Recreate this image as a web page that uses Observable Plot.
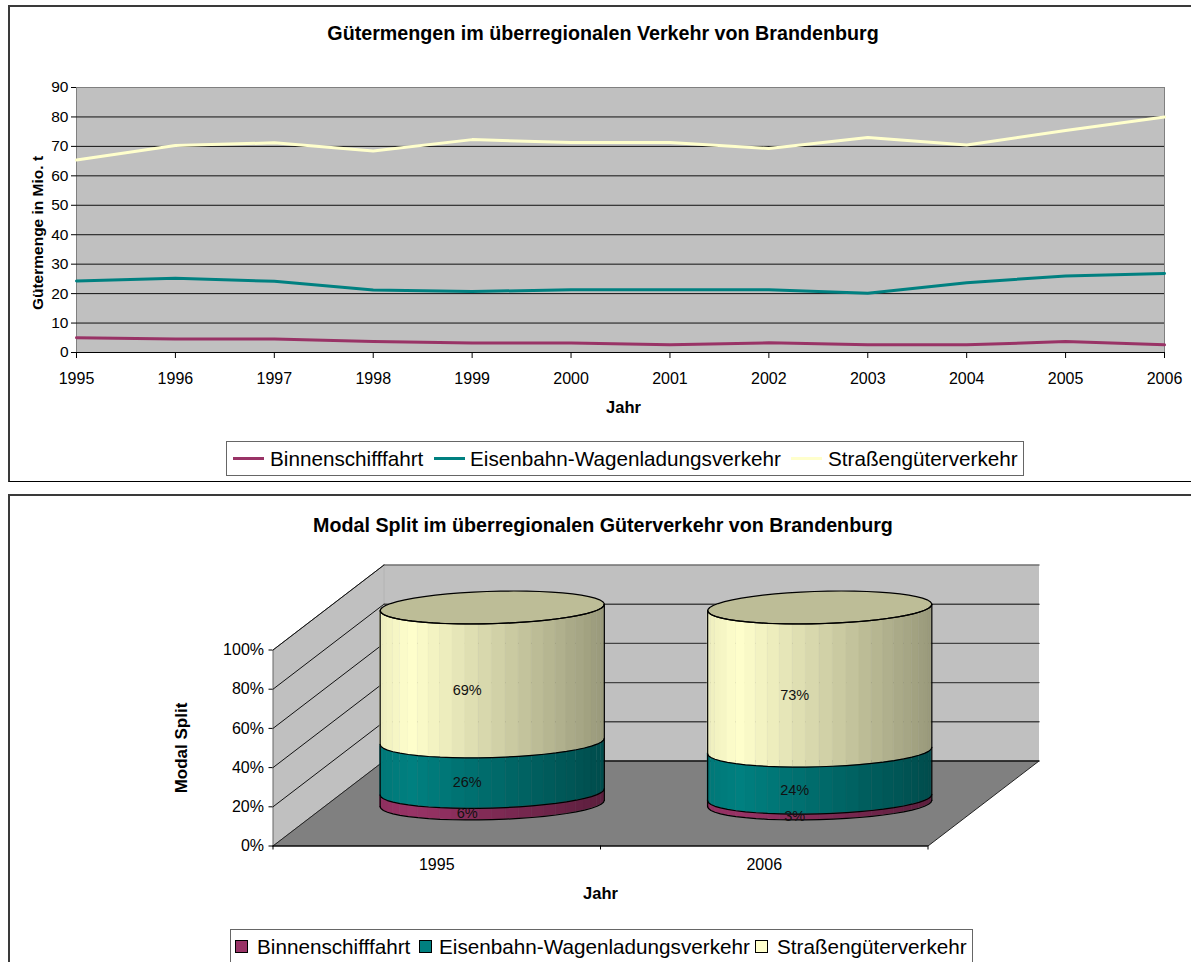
<!DOCTYPE html>
<html lang="de">
<head>
<meta charset="utf-8">
<title>Güterverkehr Brandenburg</title>
<script src="https://cdn.jsdelivr.net/npm/d3@7"></script>
<script src="https://cdn.jsdelivr.net/npm/@observablehq/plot@0.6"></script>
<style>
  html, body { margin: 0; padding: 0; background: #fff; }
  #page { position: relative; width: 1191px; height: 962px; overflow: hidden; font-family: "Liberation Sans", Arial, sans-serif; color: #000; }
  .panel { position: absolute; box-sizing: border-box; background: #fff;
           border-top: 2px solid #3a3a3a; border-left: 2px solid #3a3a3a; border-bottom: 1.5px solid #000; }
  .layer { position: absolute; left: 0; }
  .title { position: absolute; left: 0; font-weight: bold; text-align: center; font-size: 19.7px; white-space: nowrap; }
  .legend { position: absolute; box-sizing: border-box; background: #fff; border: 1.5px solid #666; }
  .legend span { position: absolute; white-space: nowrap; font-size: 20.7px; line-height: 1; }
  .legend i { position: absolute; display: block; box-sizing: border-box; }
</style>
</head>
<body>
<div id="page"></div>
<script>
// Tonnage per year and transport mode (million t)
const years = [1995, 1996, 1997, 1998, 1999, 2000, 2001, 2002, 2003, 2004, 2005, 2006];
const binnenschiff = [5, 4.6, 4.6, 3.7, 3.2, 3.2, 2.6, 3.3, 2.6, 2.6, 3.7, 2.6];
const eisenbahn = [24.3, 25.2, 24.2, 21.2, 20.7, 21.3, 21.3, 21.3, 20.1, 23.7, 26, 26.8];
const strasse = [65.4, 70.3, 71.2, 68.4, 72.3, 71.3, 71.3, 69.3, 73, 70.5, 75.4, 80];
const tonTicks = [0, 10, 20, 30, 40, 50, 60, 70, 80, 90];

// Modal split, percent per mode
const splitYears = ["1995", "2006"];
const splitBinnenschiff = [6, 3];
const splitEisenbahn = [26, 24];
const splitStrasse = [69, 73];
const percentTicks = [0, 20, 40, 60, 80, 100];

const modeNames = ["Binnenschifffahrt", "Eisenbahn-Wagenladungsverkehr", "Straßengüterverkehr"];
const modeColors = ["#993366", "#008080", "#FFFFCC"];

const page = document.getElementById("page");

function addPanel(top, height) {
  const d = document.createElement("div");
  d.className = "panel";
  Object.assign(d.style, {left: "8px", top: top + "px", width: "1190px", height: height + "px"});
  page.append(d);
}
function addLayer(svg, top) {
  svg.classList.add("layer");
  svg.style.top = top + "px";
  page.append(svg);
}
function addTitle(text, cx, top) {
  const d = document.createElement("div");
  d.className = "title";
  d.textContent = text;
  Object.assign(d.style, {left: cx - 500 + "px", width: "1000px", top: top + "px"});
  page.append(d);
}
function addLegend(box, textTop, items) {
  const d = document.createElement("div");
  d.className = "legend";
  Object.assign(d.style, {left: box[0] + "px", top: box[1] + "px", width: box[2] + "px", height: box[3] + "px"});
  items.forEach((it, k) => {
    const key = document.createElement("i");
    Object.assign(key.style, it.key);
    const t = document.createElement("span");
    t.textContent = modeNames[k];
    Object.assign(t.style, {left: it.textLeft + "px", top: textTop + "px"});
    d.append(key, t);
  });
  page.append(d);
}

/* ---------- line chart ---------- */
const lineRows = modeNames.flatMap((mode, k) =>
  years.map((year, i) => ({mode: k, year, value: [binnenschiff, eisenbahn, strasse][k][i]})));

addPanel(5, 476.5);
addLayer(Plot.plot({
  width: 1191, height: 482,
  marginLeft: 76, marginRight: 27, marginTop: 87, marginBottom: 130,
  style: {fontFamily: "Liberation Sans, Arial, sans-serif", fontSize: "15px", background: "transparent", overflow: "visible"},
  x: {domain: [1995, 2006], label: null},
  y: {domain: [0, 90], label: null},
  marks: [
    Plot.frame({fill: "#C0C0C0", stroke: "#808080"}),
    Plot.ruleY(tonTicks.slice(1, -1), {stroke: "#111", strokeWidth: 1}),
    Plot.ruleY([0], {stroke: "#000", strokeWidth: 1.2}),
    Plot.axisY({ticks: tonTicks, tickSize: 5, tickPadding: 3, fontSize: 15.5, tickFormat: "d", label: null}),
    Plot.axisX({ticks: years, tickSize: 6, tickPadding: 14, fontSize: 16, tickFormat: "d", label: null}),
    Plot.line(lineRows, {x: "year", y: "value", z: "mode", stroke: d => modeColors[d.mode], strokeWidth: 3}),
    Plot.text(["Gütermenge in Mio. t"], {frameAnchor: "left", textAnchor: "middle", rotate: -90, dx: -38, dy: 13, fontWeight: "bold", fontSize: 15.5}),
    Plot.text(["Jahr"], {frameAnchor: "bottom", dx: 3, dy: 60, fontWeight: "bold", fontSize: 16.5})
  ]
}), 0);
addTitle("Gütermengen im überregionalen Verkehr von Brandenburg", 603, 22);
addLegend([226, 441, 798, 35], 7, [
  {key: {left: "6px", top: "15px", width: "31px", height: "3px", background: modeColors[0]}, textLeft: 43},
  {key: {left: "207px", top: "15px", width: "31px", height: "3px", background: modeColors[1]}, textLeft: 243},
  {key: {left: "564px", top: "15px", width: "31px", height: "3px", background: modeColors[2]}, textLeft: 601}
]);

/* ---------- 3D stacked cylinders ---------- */
// Oblique projection: a depth of 1 moves a point right and up by these amounts,
// expressed in category and percent units.
const depthX = 111 / 327.5;
const depthY = 85 / 1.96;
const px = (u, d) => u + d * depthX;
const py = (v, d) => v + d * depthY;
const corner = ([u, v, d]) => ({x: px(u, d), y: py(v, d)});

const leftWall = [[0, 0, 0], [0, 0, 1], [0, 100, 1], [0, 100, 0], [0, 0, 0]];
const backWall = [[0, 0, 1], [2, 0, 1], [2, 100, 1], [0, 100, 1], [0, 0, 1]];
const floor = [[0, 0, 0], [2, 0, 0], [2, 0, 1], [0, 0, 1], [0, 0, 0]];
const wallCorner = [[0, 0, 1], [0, 100, 1]];

// Cylinder footprint in category and depth units
const radiusU = 110 / 327.5;
const radiusD = 0.194;
const facetCount = 26;
const silhouette = Math.atan2(radiusD * depthX, radiusU);
const ring = (c, t) => ({u: c + 0.5 + radiusU * Math.cos(t), d: 0.5 + radiusD * Math.sin(t)});
const frontAngle = s => silhouette + Math.PI + (Math.PI * s);
const shade = d3.scaleLinear([0, 0.14, 1], [0.93, 1, 0.6]);
const tint = (hex, f) => { const c = d3.rgb(hex); return d3.rgb(c.r * f, c.g * f, c.b * f).formatRgb(); };

const facets = [], arcs = [], edges = [], caps = [], stackLabels = [];
splitYears.forEach((year, c) => {
  const parts = [splitBinnenschiff[c], splitEisenbahn[c], splitStrasse[c]];
  const total = d3.sum(parts);
  const tops = Array.from(d3.cumsum(parts), v => v / total * 100);
  parts.forEach((p, k) => {
    const lo = k ? tops[k - 1] : 0, hi = tops[k];
    for (let i = 0; i < facetCount; i++) {
      const a = ring(c, frontAngle(i / facetCount));
      const b = ring(c, frontAngle((i + 1) / facetCount));
      const left = ring(c, frontAngle(0)), right = ring(c, frontAngle(1));
      const mid = ((a.u + a.d * depthX + b.u + b.d * depthX) / 2 - (left.u + left.d * depthX)) /
                  ((right.u + right.d * depthX) - (left.u + left.d * depthX));
      const fill = tint(modeColors[k], shade(mid));
      const id = `${c}-${k}-${i}`;
      facets.push({id, fill, x: px(a.u, a.d), y1: py(lo, a.d), y2: py(hi, a.d)});
      facets.push({id, fill, x: px(b.u, b.d), y1: py(lo, b.d), y2: py(hi, b.d)});
    }
    stackLabels.push({text: `${p}%`, x: px(c + 0.5, 0.5), y: py((lo + hi) / 2, 0.5)});
  });
  [0, ...tops].forEach((v, k) => {
    for (let i = 0; i <= facetCount; i++) {
      const a = ring(c, frontAngle(i / facetCount));
      arcs.push({id: `${c}-${k}`, x: px(a.u, a.d), y: py(v, a.d)});
    }
  });
  [0, 1].forEach(s => {
    const a = ring(c, frontAngle(s));
    edges.push({id: `${c}-${s}`, x: px(a.u, a.d), y: py(0, a.d)});
    edges.push({id: `${c}-${s}`, x: px(a.u, a.d), y: py(100, a.d)});
  });
  for (let i = 0; i <= 2 * facetCount; i++) {
    const a = ring(c, (i / facetCount) * Math.PI);
    caps.push({id: c, x: px(a.u, a.d), y: py(100, a.d)});
  }
});

const sideLines = percentTicks.slice(1).flatMap(v => [
  {id: v, ...corner([0, v, 0])}, {id: v, ...corner([0, v, 1])}
]);
const backLines = percentTicks.slice(1, -1).flatMap(v => [
  {id: v, ...corner([0, v, 1])}, {id: v, ...corner([2, v, 1])}
]);

addPanel(494, 480);
addLayer(Plot.plot({
  width: 1191, height: 472,
  marginLeft: 272.5, marginRight: 152.5, marginTop: 74.5, marginBottom: 116.5,
  style: {fontFamily: "Liberation Sans, Arial, sans-serif", fontSize: "15px", background: "transparent", overflow: "visible"},
  x: {domain: [0, px(2, 1)], label: null},
  y: {domain: [0, py(100, 1)], label: null},
  marks: [
    Plot.line(backWall.map(corner), {x: "x", y: "y", fill: "#C0C0C0"}),
    Plot.line(leftWall.map(corner), {x: "x", y: "y", fill: "#C0C0C0", stroke: "#666", strokeWidth: 1}),
    Plot.line(wallCorner.map(corner), {x: "x", y: "y", stroke: "#E0E0E0", strokeWidth: 1}),
    Plot.line(backWall.slice(2, 4).map(corner), {x: "x", y: "y", stroke: "#707070", strokeWidth: 1.5}),
    Plot.line(floor.map(corner), {x: "x", y: "y", fill: "#808080", stroke: "#222", strokeWidth: 1}),
    Plot.line(backWall.slice(0, 2).map(corner), {x: "x", y: "y", stroke: "#222", strokeWidth: 1.6}),
    Plot.line(sideLines, {x: "x", y: "y", z: "id", stroke: "#111", strokeWidth: 1}),
    Plot.line(backLines, {x: "x", y: "y", z: "id", stroke: "#444", strokeWidth: 1.4}),
    Plot.ruleY([0], {x1: 0, x2: 2, stroke: "#000", strokeWidth: 1.2}),
    Plot.axisY({ticks: percentTicks, tickSize: 4, tickPadding: 5, fontSize: 16, tickFormat: d => `${d}%`, label: null}),
    Plot.axisX({ticks: [0, 1, 2], tickSize: 4, tickFormat: () => "", label: null}),
    Plot.axisX({ticks: [0.5, 1.5], tickSize: 0, tickPadding: 13, fontSize: 16, tickFormat: d => splitYears[d - 0.5], label: null}),
    Plot.area(facets, {x1: "x", y1: "y1", y2: "y2", z: "id", fill: "fill", stroke: "fill", strokeWidth: 0.4}),
    Plot.line(caps, {x: "x", y: "y", z: "id", fill: tint(modeColors[2], 0.74), stroke: "#000", strokeWidth: 1.2}),
    Plot.line(arcs, {x: "x", y: "y", z: "id", stroke: "#000", strokeWidth: 1.2}),
    Plot.line(edges, {x: "x", y: "y", z: "id", stroke: "#000", strokeWidth: 1.2}),
    Plot.text(stackLabels, {x: "x", y: "y", text: "text", dx: -25, dy: 16, fontSize: 14.5, fill: "#111"}),
    Plot.text(["Modal Split"], {frameAnchor: "left", textAnchor: "middle", y: () => 50, rotate: -90, dx: -91, fontWeight: "bold", fontSize: 17}),
    Plot.text(["Jahr"], {frameAnchor: "bottom", x: () => 1, dy: 53, fontWeight: "bold", fontSize: 16.5})
  ]
}), 490);
addTitle("Modal Split im überregionalen Güterverkehr von Brandenburg", 603, 514);
addLegend([230, 929, 743, 40], 7, [
  {key: {left: "4px", top: "10px", width: "13px", height: "13px", background: modeColors[0], border: "1.5px solid #000"}, textLeft: 26},
  {key: {left: "188px", top: "10px", width: "13px", height: "13px", background: modeColors[1], border: "1.5px solid #000"}, textLeft: 208},
  {key: {left: "524px", top: "10px", width: "13px", height: "13px", background: modeColors[2], border: "1.5px solid #000"}, textLeft: 546}
]);
</script>
</body>
</html>
